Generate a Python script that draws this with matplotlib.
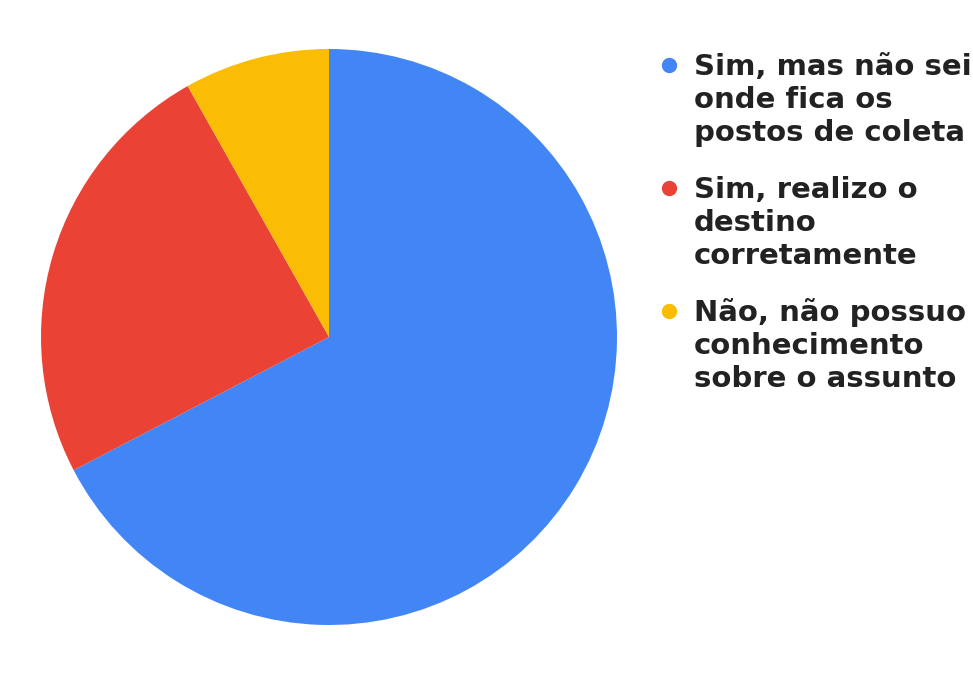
import matplotlib.pyplot as plt

# respostas (33 + 12 + 4 = 49)
labels = ['Sim, mas não sei\nonde fica os\npostos de coleta',
          'Sim, realizo o\ndestino\ncorretamente',
          'Não, não possuo\nconhecimento\nsobre o assunto']
values = [33, 12, 4]
colors = ['#4285F4', '#EA4335', '#FBBC04']

plt.rcParams['font.family'] = ['DejaVu Sans']

W, H = 973, 687
fig = plt.figure(figsize=(W / 100, H / 100), dpi=100)
fig.patch.set_facecolor('white')

# pie: center ~(329, 337) px, radius ~288 px
r = 288
cx, cy = 329, 337
ax = fig.add_axes([(cx - r) / W, (H - cy - r) / H, 2 * r / W, 2 * r / H])
ax.pie(values, colors=colors, startangle=90, counterclock=False,
       radius=1, wedgeprops={'linewidth': 0})
ax.set_xlim(-1, 1)
ax.set_ylim(-1, 1)
ax.set_aspect('equal')
ax.axis('off')

# legend drawn by hand in pixel coords so the dot sits on the first line
lg = fig.add_axes([0, 0, 1, 1])
lg.set_xlim(0, W)
lg.set_ylim(H, 0)
lg.axis('off')

y = 75
line_h = 33
for lab, col in zip(labels, colors):
    lines = lab.split('\n')
    lg.plot(669, y - 10, 'o', color=col, markersize=10, clip_on=False)
    for k, txt in enumerate(lines):
        lg.text(694, y + k * line_h, txt, fontsize=21, fontweight='bold',
                color='#222222', va='baseline', ha='left')
    y += len(lines) * line_h + 24

plt.savefig('out.png', dpi=100)
